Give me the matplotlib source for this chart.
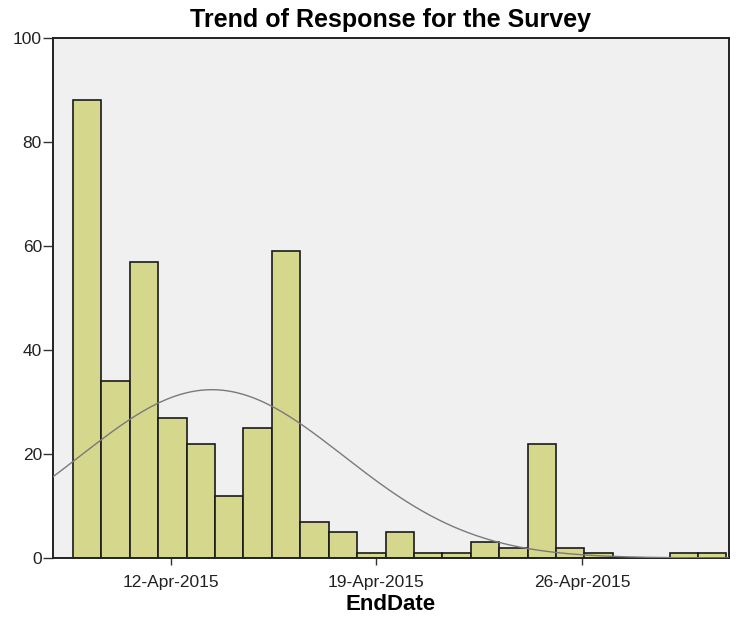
import matplotlib
matplotlib.use("Agg")
import matplotlib.pyplot as plt
import matplotlib.dates as mdates
import numpy as np
from datetime import datetime, timedelta

plt.rcParams["font.family"] = ["Liberation Sans", "DejaVu Sans"]

# Daily-ish response counts (SPSS histogram bins of EndDate)
counts = [88, 34, 57, 27, 22, 12, 25, 59, 7, 5, 1, 5, 1, 1, 3, 2, 22, 2, 1, 0, 0, 1, 1]
bin_start = datetime(2015, 4, 8, 16, 20)
bin_hours = 23.2
tick_dates = [datetime(2015, 4, 12), datetime(2015, 4, 19), datetime(2015, 4, 26)]
tick_labels = ["12-Apr-2015", "19-Apr-2015", "26-Apr-2015"]
x_range = (datetime(2015, 4, 8), datetime(2015, 5, 1))

counts = np.array(counts, dtype=float)
w = bin_hours / 24.0
left = mdates.date2num(bin_start) + np.arange(len(counts)) * w
centers = left + w / 2

fig = plt.figure(figsize=(7.36, 6.2), dpi=100)
ax = fig.add_axes([53 / 736, 1 - 558 / 620, 676 / 736, 520 / 620])
ax.set_facecolor("#f0f0f0")

ax.bar(left, counts, width=w, align="edge", color="#d4d78c",
       edgecolor="#1a1a1a", linewidth=1.2, zorder=2)

# normal curve fitted to the binned data
n = counts.sum()
mu = (centers * counts).sum() / n
sd = np.sqrt(((centers - mu) ** 2 * counts).sum() / n)
xs = np.linspace(mdates.date2num(x_range[0]), mdates.date2num(x_range[1]), 400)
ys = n * w * np.exp(-0.5 * ((xs - mu) / sd) ** 2) / (sd * np.sqrt(2 * np.pi))
ax.plot(xs, ys, color="#7a7a7a", linewidth=1.0, zorder=3)

ax.set_xlim(mdates.date2num(x_range[0]), mdates.date2num(x_range[1]))
ax.set_ylim(0, 100)
ax.set_xticks(mdates.date2num(tick_dates))
ax.set_xticklabels(tick_labels)
ax.set_yticks([0, 20, 40, 60, 80, 100])
ax.tick_params(axis="both", labelsize=12.5, width=1, color="#333333",
               labelcolor="#222222")
ax.tick_params(axis="x", length=5, pad=7)
ax.tick_params(axis="y", length=7, pad=1)
for s in ax.spines.values():
    s.set_linewidth(1.4)
    s.set_color("#222222")

ax.set_xlabel("EndDate", fontsize=16, fontweight="bold", labelpad=3)
ax.set_title("Trend of Response for the Survey", fontsize=18, fontweight="bold", pad=8)

fig.savefig("out.png", dpi=100)
